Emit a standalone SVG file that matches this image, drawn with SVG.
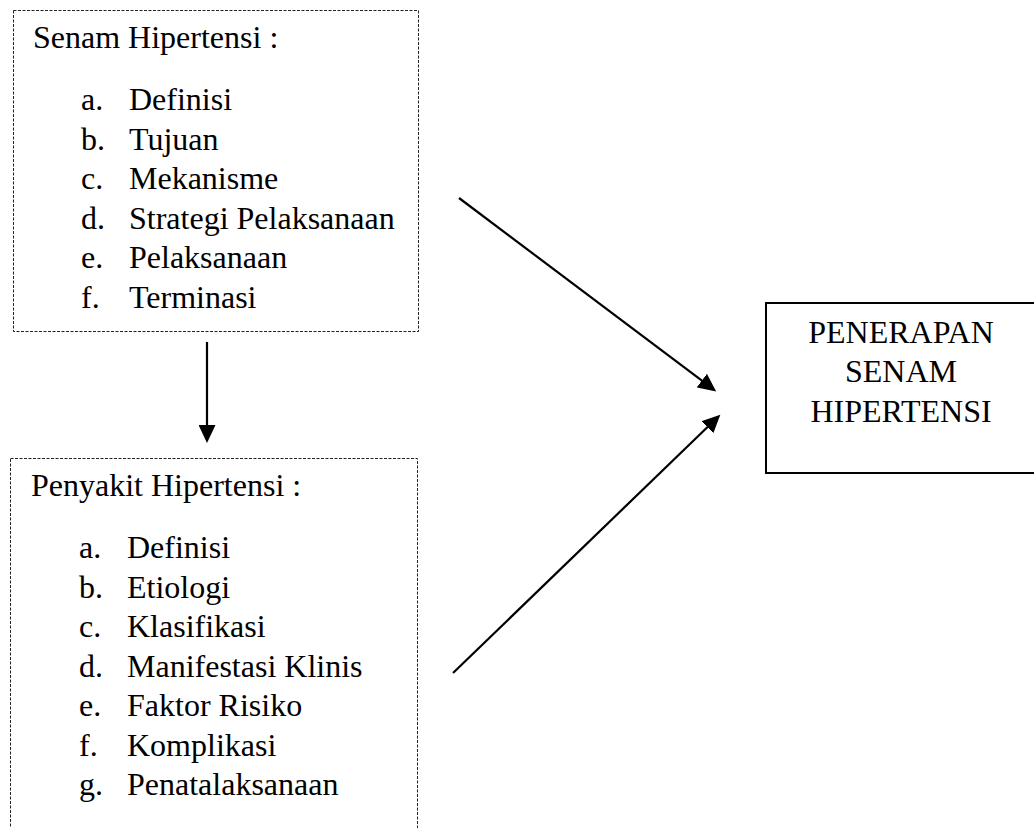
<svg xmlns="http://www.w3.org/2000/svg" width="1034" height="828" viewBox="0 0 1034 828">
  <style>
    .t { font-family: "Liberation Serif", "Times New Roman", serif; font-size: 32px; fill: #000; }
    .dash { fill: none; stroke: #222; stroke-width: 1; stroke-dasharray: 3 1.5; }
    .solid { fill: none; stroke: #000; stroke-width: 2; }
    .conn { stroke: #000; stroke-width: 2.2; fill: none; marker-end: url(#ah); }
  </style>
  <defs>
    <marker id="ah" markerUnits="userSpaceOnUse" markerWidth="19" markerHeight="17" refX="1" refY="8.5" orient="auto">
      <path d="M0,0 L18,8.5 L0,17 z" fill="#000"/>
    </marker>
  </defs>
  <rect width="1034" height="828" fill="#fff"/>

  <g id="node-senam">
    <rect class="dash" x="13.5" y="10.5" width="405" height="321"/>
    <text class="t" x="33" y="48">Senam Hipertensi :</text>
    <text class="t" x="81" y="110">a.</text><text class="t" x="129" y="110">Definisi</text>
    <text class="t" x="81" y="149.5">b.</text><text class="t" x="129" y="149.5">Tujuan</text>
    <text class="t" x="81" y="189">c.</text><text class="t" x="129" y="189">Mekanisme</text>
    <text class="t" x="81" y="228.5">d.</text><text class="t" x="129" y="228.5">Strategi Pelaksanaan</text>
    <text class="t" x="81" y="268">e.</text><text class="t" x="129" y="268">Pelaksanaan</text>
    <text class="t" x="81" y="307.5">f.</text><text class="t" x="129" y="307.5">Terminasi</text>
  </g>

  <g id="node-penyakit">
    <rect class="dash" x="10.5" y="458.5" width="407" height="380"/>
    <text class="t" x="31" y="496">Penyakit Hipertensi :</text>
    <text class="t" x="79" y="558">a.</text><text class="t" x="127" y="558">Definisi</text>
    <text class="t" x="79" y="597.5">b.</text><text class="t" x="127" y="597.5">Etiologi</text>
    <text class="t" x="79" y="637">c.</text><text class="t" x="127" y="637">Klasifikasi</text>
    <text class="t" x="79" y="676.5">d.</text><text class="t" x="127" y="676.5">Manifestasi Klinis</text>
    <text class="t" x="79" y="716">e.</text><text class="t" x="127" y="716">Faktor Risiko</text>
    <text class="t" x="79" y="755.5">f.</text><text class="t" x="127" y="755.5">Komplikasi</text>
    <text class="t" x="79" y="795">g.</text><text class="t" x="127" y="795">Penatalaksanaan</text>
  </g>

  <g id="node-penerapan">
    <rect class="solid" x="766" y="303" width="290" height="170"/>
    <text class="t" x="901" y="343" text-anchor="middle">PENERAPAN</text>
    <text class="t" x="901" y="382" text-anchor="middle">SENAM</text>
    <text class="t" x="901" y="422" text-anchor="middle">HIPERTENSI</text>
  </g>

  <g id="connectors">
    <line class="conn" x1="207" y1="342" x2="207" y2="426"/>
    <line class="conn" x1="459" y1="198" x2="702.6" y2="381.2"/>
    <line class="conn" x1="453" y1="673" x2="708.1" y2="426.5"/>
  </g>
</svg>
